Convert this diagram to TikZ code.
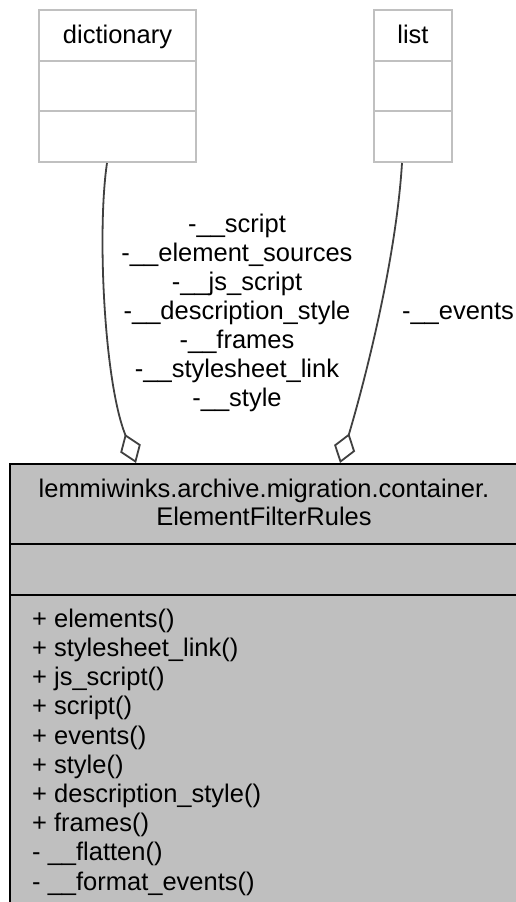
\documentclass[tikz,border=0pt]{standalone}
\usepackage{fontspec}
\setmainfont{Liberation Sans}
\usetikzlibrary{arrows.meta}
\definecolor{boxgray}{HTML}{BFBFBF}
\definecolor{extgray}{HTML}{C0C0C0}
\definecolor{edgegray}{HTML}{404040}
\newcommand\mystrut{\rule[-6pt]{0pt}{26pt}}
\begin{document}
\begin{tikzpicture}[x=1pt,y=-1pt,
  extbox/.style={draw=extgray, line width=2pt, fill=white, inner sep=0pt},
  mainbox/.style={draw=black, line width=2pt, fill=boxgray, inner sep=0pt},
  txt/.style={font=\fontsize{25.5}{29.2}\selectfont, inner sep=0pt, text=black},
  assoc/.style={draw=edgegray, line width=1.8pt, -{Diamond[open,length=31pt,width=22pt]}}]
\useasboundingbox (0,0) rectangle (516,902);
\clip (0,0) rectangle (516,902);
\fill[white] (0,0) rectangle (516,902);

% dictionary
\node[extbox, txt, minimum width=157pt, minimum height=51pt, text height=20pt, text depth=5pt] (dict) at (117.5,35.5) {dictionary};
\node[extbox, minimum width=157pt, minimum height=50pt] (dictm) at (117.5,86) {};
\node[extbox, minimum width=157pt, minimum height=51pt] (dictb) at (117.5,136.5) {};

% list
\node[extbox, txt, minimum width=78pt, minimum height=51pt, text height=20pt, text depth=5pt] (list) at (413,35.5) {list};
\node[extbox, minimum width=78pt, minimum height=50pt] (listm) at (413,86) {};
\node[extbox, minimum width=78pt, minimum height=51pt] (listb) at (413,136.5) {};

% main class
\node[mainbox, minimum width=508pt, minimum height=80pt, align=center,
      font=\fontsize{25.5}{28}\selectfont] (main) at (264,504)
  {\mystrut lemmiwinks.archive.migration.container.\\\mystrut ElementFilterRules};
\node[mainbox, minimum width=508pt, minimum height=51pt] (mainattr) at (264,569.5) {};
\node[mainbox, minimum width=508pt, minimum height=330pt] (mainops) at (264,760) {};
\node[txt, align=left, anchor=north west] (ops) at (32,607)
  {\mystrut + elements()\\
   \mystrut + stylesheet\_link()\\
   \mystrut + js\_script()\\
   \mystrut + script()\\
   \mystrut + events()\\
   \mystrut + style()\\
   \mystrut + description\_style()\\
   \mystrut + frames()\\
   \mystrut - \_\_flatten()\\
   \mystrut - \_\_format\_events()};

% edge labels
\node[txt, align=center, anchor=north, font=\fontsize{25.5}{29}\selectfont] (dlab) at (237,212)
  {\mystrut -\_\_script\\
   \mystrut -\_\_element\_sources\\
   \mystrut -\_\_js\_script\\
   \mystrut -\_\_description\_style\\
   \mystrut -\_\_frames\\
   \mystrut -\_\_stylesheet\_link\\
   \mystrut -\_\_style};
\node[txt, anchor=base] (elab) at (458,319) {-\_\_events};

% connectors
\coordinate (dtop) at (125,434);
\coordinate (ltop) at (349,434);
\draw[assoc] ([xshift=-10.5pt]dictb.south) .. controls (97,230) and (104,380) .. (dtop) -- ([xshift=-128pt]main.north);
\draw[assoc] ([xshift=-11pt]listb.south) .. controls (396,260) and (365,380) .. (ltop) -- ([xshift=76pt]main.north);
\end{tikzpicture}
\end{document}
